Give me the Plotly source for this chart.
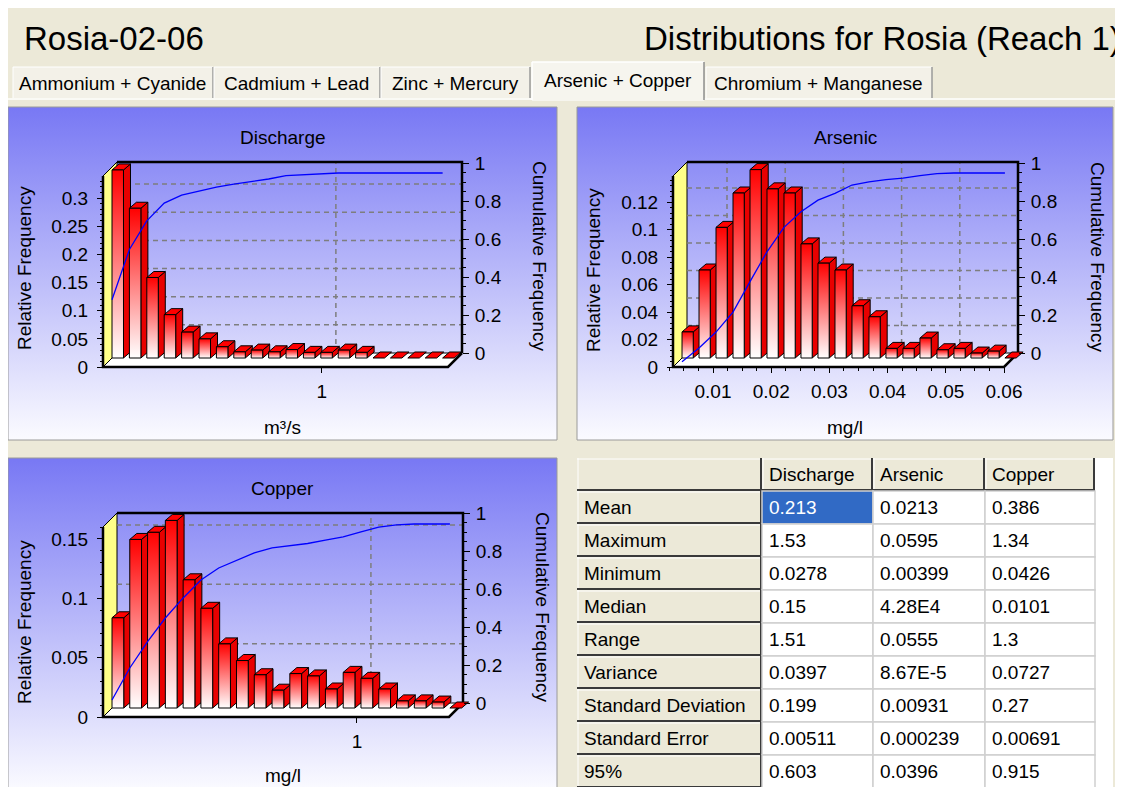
import numpy as np
import plotly.graph_objects as go

W, H = 1123, 787
OFF = 8   # page offset of the figure (body margin)
FONT = "Liberation Sans, Arial, sans-serif"

# ======================= data =======================
APP_TITLE = "Rosia-02-06"
VIEW_TITLE = "Distributions for Rosia (Reach 1)"
TAB_LABELS = ["Ammonium + Cyanide", "Cadmium + Lead", "Zinc + Mercury",
              "Arsenic + Copper", "Chromium + Manganese"]
ACTIVE_TAB = "Arsenic + Copper"

CHART_TITLES = ["Discharge", "Arsenic", "Copper"]
X_UNITS = ["m³/s", "mg/l", "mg/l"]
Y_TITLE = "Relative Frequency"
Y2_TITLE = "Cumulative Frequency"

DISCHARGE_FREQ = [0.334, 0.266, 0.143, 0.077, 0.046, 0.034, 0.020, 0.011, 0.014, 0.011,
                  0.015, 0.010, 0.010, 0.014, 0.010, 0.0, 0.0, 0.0, 0.0, 0.0]
DISCHARGE_CUM = [0.347, 0.606, 0.753, 0.845, 0.886, 0.907, 0.927, 0.943, 0.955, 0.969,
                 0.986, 0.990, 0.995, 1.0, 1.0, 1.0, 1.0, 1.0, 1.0, 1.0]
DISCHARGE_BIN_START = 0.0278
DISCHARGE_BIN_WIDTH = 0.0791
DISCHARGE_Y_TICKS = [0, 0.05, 0.1, 0.15, 0.2, 0.25, 0.3]
DISCHARGE_Y_LABELS = ["0", "0.05", "0.1", "0.15", "0.2", "0.25", "0.3"]
DISCHARGE_X_TICKS = [1]
DISCHARGE_X_LABELS = ["1"]

ARSENIC_FREQ = [0.019, 0.064, 0.095, 0.120, 0.137, 0.123, 0.120, 0.083, 0.069, 0.064,
                0.038, 0.030, 0.007, 0.007, 0.0145, 0.006, 0.007, 0.0036, 0.005, 0.0]
ARSENIC_CUM = [0.027, 0.098, 0.180, 0.283, 0.440, 0.594, 0.720, 0.800, 0.860, 0.895,
               0.938, 0.954, 0.966, 0.974, 0.987, 0.997, 1.0, 1.0, 1.0, 1.0]
ARSENIC_BIN_START = 0.00399
ARSENIC_BIN_WIDTH = 0.00292
ARSENIC_Y_TICKS = [0, 0.02, 0.04, 0.06, 0.08, 0.1, 0.12]
ARSENIC_Y_LABELS = ["0", "0.02", "0.04", "0.06", "0.08", "0.1", "0.12"]
ARSENIC_X_TICKS = [0.01, 0.02, 0.03, 0.04, 0.05, 0.06]
ARSENIC_X_LABELS = ["0.01", "0.02", "0.03", "0.04", "0.05", "0.06"]

COPPER_FREQ = [0.076, 0.142, 0.148, 0.158, 0.108, 0.084, 0.054, 0.040, 0.028, 0.015,
               0.029, 0.027, 0.016, 0.030, 0.025, 0.016, 0.006, 0.006, 0.005, 0.0]
COPPER_CUM = [0.088, 0.254, 0.390, 0.513, 0.617, 0.710, 0.772, 0.813, 0.850, 0.876,
              0.889, 0.899, 0.917, 0.933, 0.959, 0.984, 0.995, 1.0, 1.0, 1.0]
COPPER_BIN_START = 0.0426
COPPER_BIN_WIDTH = 0.0684
COPPER_Y_TICKS = [0, 0.05, 0.1, 0.15]
COPPER_Y_LABELS = ["0", "0.05", "0.1", "0.15"]
COPPER_X_TICKS = [1]
COPPER_X_LABELS = ["1"]

CUM_TICKS = [0, 0.2, 0.4, 0.6, 0.8, 1]
CUM_LABELS = ["0", "0.2", "0.4", "0.6", "0.8", "1"]

STAT_NAMES = ["Mean", "Maximum", "Minimum", "Median", "Range", "Variance",
              "Standard Deviation", "Standard Error", "95%"]
STAT_COLUMNS = ["Discharge", "Arsenic", "Copper"]
DISCHARGE_STATS = ["0.213", "1.53", "0.0278", "0.15", "1.51", "0.0397", "0.199", "0.00511", "0.603"]
ARSENIC_STATS = ["0.0213", "0.0595", "0.00399", "4.28E4", "0.0555", "8.67E-5", "0.00931", "0.000239", "0.0396"]
COPPER_STATS = ["0.386", "1.34", "0.0426", "0.0101", "1.3", "0.0727", "0.27", "0.00691", "0.915"]

# ======================= geometry / style =======================
BG = "#ECE9D8"
YELLOW = "#FFFF88"
BOX_DEPTH = 14          # px depth of the 3D box
BAR_SHIFT_X = 4         # bar plane offset (px)
BAR_LIFT = 9
BAR_FRAC = 0.66
BAR_DX, BAR_DY = 7, 6   # bar depth (px)

GEOM = [
    dict(panel=(8, 107, 557, 440), xref=(0.0278, 108), sx=220, y0=367, sy=563,
         box=(103, 448, 176), cum=(367, 173), right=(353, 163),
         title_y=137, unit_y=427, ytitle=(24, 268), y2title=(540, 256),
         minor_y=0.01, minor_x=None),
    dict(panel=(577, 107, 1113, 440), xref=(0.01, 713), sx=5820, y0=367, sy=1375,
         box=(673, 1004, 176), cum=(367, 173), right=(353, 163),
         title_y=137, unit_y=427, ytitle=(593, 270), y2title=(1098, 257),
         minor_y=0.004, minor_x=0.0025),
    dict(panel=(8, 458, 557, 791), xref=(0.0426, 108), sx=260, y0=717, sy=1187,
         box=(103, 449, 527), cum=(717, 524), right=(703, 513),
         title_y=488, unit_y=775, ytitle=(24, 622), y2title=(543, 607),
         minor_y=0.01, minor_x=None),
]

TICKFONT = dict(family=FONT, size=19, color="black")

fig = go.Figure()
axes = {}
shapes = []
annotations = []


def Y(py):
    """page pixel row -> background-axis y value"""
    return H + OFF - py


def dx(px):
    return (px - OFF) / W


def dy(py):
    return min(1.0, max(0.0, 1 - (py - OFF) / H))


def rect(x0, y0, x1, y1, fill, line=None, lw=0, layer="below"):
    shapes.append(dict(type="rect", xref="x", yref="y", x0=x0, x1=x1, y0=Y(y0), y1=Y(y1),
                       fillcolor=fill, line=dict(color=line or fill, width=lw), layer=layer))


def seg(x0, y0, x1, y1, color, lw=1, layer="below"):
    shapes.append(dict(type="line", xref="x", yref="y", x0=x0, x1=x1, y0=Y(y0), y1=Y(y1),
                       line=dict(color=color, width=lw), layer=layer))


def text(x, y, s, size=19, color="black", xanchor="center", angle=0, family=FONT):
    annotations.append(dict(xref="x", yref="y", x=x, y=Y(y), text=s, showarrow=False,
                            xanchor=xanchor, yanchor="middle", textangle=angle,
                            font=dict(family=family, size=size, color=color)))


# background axes in page pixels
axes["xaxis"] = dict(domain=[0, 1], range=[OFF, W + OFF], visible=False, fixedrange=True)
axes["yaxis"] = dict(domain=[0, 1], range=[0, H], visible=False, fixedrange=True)

# window chrome
text(22, 38, APP_TITLE, size=33, xanchor="left")
text(642, 38, VIEW_TITLE, size=33, xanchor="left")

TAB_EDGES = [(12, 213), (213, 380), (380, 530), (532, 704), (705, 932)]
seg(8, 99, 1116, 99, "#FFFFFF", 1.5)
for lab, (l, r) in zip(TAB_LABELS, TAB_EDGES):
    if lab == ACTIVE_TAB:
        rect(l, 62, r, 101, "#F6F5EE")
        seg(l, 62, l, 100, "#FFFFFF", 1.5)
        seg(l, 62, r, 62, "#FFFFFF", 1.5)
        seg(r, 62, r, 100, "#8E8E8E", 1.5)
        text((l + r) / 2, 80, lab)
    else:
        rect(l + 1, 67, r, 98, "#F3F1E8")
        seg(l + 1, 67, l + 1, 98, "#FFFFFF", 1)
        seg(l + 1, 67, r, 67, "#FFFFFF", 1)
        seg(r, 67, r, 98, "#9A9A9A", 1.5)
        text((l + r) / 2, 83, lab)

# panels with vertical gradient
for g in GEOM:
    l, t, r, b = g["panel"]
    fig.add_trace(go.Scatter(
        x=[l, r, r, l, l], y=[Y(b), Y(b), Y(t), Y(t), Y(b)], mode="lines", fill="toself",
        fillgradient=dict(type="vertical", colorscale=[[0, "#FBFBFF"], [1, "#7878F4"]],
                          start=Y(b), stop=Y(t)),
        line=dict(color="#9A9A9A", width=1), hoverinfo="skip", showlegend=False,
        xaxis="x", yaxis="y"))

CHARTS = [
    (DISCHARGE_FREQ, DISCHARGE_CUM, DISCHARGE_BIN_START, DISCHARGE_BIN_WIDTH,
     DISCHARGE_Y_TICKS, DISCHARGE_Y_LABELS, DISCHARGE_X_TICKS, DISCHARGE_X_LABELS),
    (ARSENIC_FREQ, ARSENIC_CUM, ARSENIC_BIN_START, ARSENIC_BIN_WIDTH,
     ARSENIC_Y_TICKS, ARSENIC_Y_LABELS, ARSENIC_X_TICKS, ARSENIC_X_LABELS),
    (COPPER_FREQ, COPPER_CUM, COPPER_BIN_START, COPPER_BIN_WIDTH,
     COPPER_Y_TICKS, COPPER_Y_LABELS, COPPER_X_TICKS, COPPER_X_LABELS),
]

for c, (g, (freq, cum, bstart, bwidth, yt, yl, xt, xl)) in enumerate(zip(GEOM, CHARTS)):
    xn = c + 2
    yln, yrn, ycn = 3 * c + 2, 3 * c + 3, 3 * c + 4
    xid, ylid, yrid, ycid = f"x{xn}", f"y{yln}", f"y{yrn}", f"y{ycn}"
    l, t, r, b = g["panel"]
    b = min(b, H + OFF)
    xv, xp = g["xref"]
    sx, sy, y0 = g["sx"], g["sy"], g["y0"]

    def vx(px, xv=xv, xp=xp, sx=sx):
        return xv + (px - xp) / sx

    def vy(py, y0=y0, sy=sy):
        return (y0 - py) / sy

    c0, c1 = g["cum"]
    r0, r1 = g["right"]
    vc = lambda py, c0=c0, c1=c1: (c0 - py) / (c0 - c1)
    vr = lambda py, r0=r0, r1=r1: (r0 - py) / (r0 - r1)

    bl, br, btop = g["box"]
    xL, xR, yT = vx(bl), vx(br), vy(btop)
    DX, DY = BOX_DEPTH / sx, BOX_DEPTH / sy

    dom_x = [dx(l), dx(r)]
    dom_y = [dy(b), dy(t)]

    minor_x = None
    if g["minor_x"]:
        minor_x = dict(tickmode="array",
                       tickvals=list(np.arange(g["minor_x"], xR + 1e-9, g["minor_x"])),
                       ticks="outside", ticklen=3, tickcolor="black")
    axes[f"xaxis{xn}"] = dict(
        domain=dom_x, range=[vx(l), vx(r)], anchor="free", position=dy(y0),
        showgrid=False, zeroline=False, showline=False, ticks="outside", ticklen=5,
        tickcolor="black", tickmode="array", tickvals=xt, ticktext=xl, tickfont=TICKFONT,
        ticklabelstandoff=2, fixedrange=True, automargin=False,
        **({"minor": minor_x} if minor_x else {}))
    axes[f"yaxis{yln}"] = dict(
        domain=dom_y, range=[vy(b), vy(t)], anchor="free", position=dx(bl), side="left",
        showgrid=False, zeroline=False, showline=False, ticks="outside", ticklen=6,
        tickcolor="black", tickmode="array", tickvals=yt, ticktext=yl, tickfont=TICKFONT,
        ticklabelstandoff=5, fixedrange=True, automargin=False,
        minor=dict(tickmode="array",
                   tickvals=list(np.arange(0, yT + 1e-9, g["minor_y"])),
                   ticks="outside", ticklen=3, tickcolor="black"))
    axes[f"yaxis{yrn}"] = dict(
        overlaying=ylid, anchor="free", position=dx(br + BOX_DEPTH), side="right",
        range=[vr(b), vr(t)], showgrid=False, zeroline=False, showline=False,
        ticks="outside", ticklen=6, tickcolor="black", tickmode="array",
        tickvals=CUM_TICKS, ticktext=CUM_LABELS, tickfont=TICKFONT, ticklabelstandoff=2,
        fixedrange=True, automargin=False,
        minor=dict(tickmode="array", tickvals=list(np.arange(0, 1.0001, 0.05)),
                   ticks="outside", ticklen=3, tickcolor="black"))
    axes[f"yaxis{ycn}"] = dict(overlaying=ylid, anchor=xid, range=[vc(b), vc(t)],
                               visible=False, fixedrange=True)

    common = dict(xaxis=xid, yaxis=ylid, hoverinfo="skip", showlegend=False)

    # yellow left wall
    fig.add_trace(go.Scatter(x=[xL, xL, xL + DX, xL + DX, xL], y=[0, yT, yT + DY, DY, 0],
                             mode="lines", fill="toself", fillcolor=YELLOW,
                             line=dict(color="black", width=1), **common))
    # floor
    fig.add_trace(go.Scatter(x=[xL, xR, xR + DX, xL + DX, xL], y=[0, 0, DY, DY, 0],
                             mode="lines", fill="toself", fillcolor="white",
                             line=dict(color="black", width=1), **common))
    # dashed grid on back wall
    gx, gy = [], []
    for tv in yt[1:]:
        gx += [xL + DX, xR + DX, None]
        gy += [tv + DY, tv + DY, None]
    for tv in xt:
        if tv < xR - 1e-9:
            gx += [tv + DX, tv + DX, None]
            gy += [DY, yT + DY, None]
    fig.add_trace(go.Scatter(x=gx, y=gy, mode="lines",
                             line=dict(color="#7E7E7E", width=1.5, dash="5px,4px"), **common))
    # back frame
    fig.add_trace(go.Scatter(x=[xL + DX, xR + DX, xR + DX], y=[yT + DY, yT + DY, DY],
                             mode="lines", line=dict(color="black", width=2.5), **common))
    # front edge + left axis line
    fig.add_trace(go.Scatter(x=[xL, xL, xR, xR + DX], y=[yT, 0, 0, DY],
                             mode="lines", line=dict(color="black", width=2.5), **common))

    # bars
    base = BAR_LIFT / sy
    shift = BAR_SHIFT_X / sx
    bw = BAR_FRAC * bwidth
    ddx, ddy = BAR_DX / sx, BAR_DY / sy
    lefts = [bstart + i * bwidth + shift for i in range(len(freq))]
    tx, ty, sxs, sys_ = [], [], [], []
    for L, h in zip(lefts, freq):
        R = L + bw
        top = base + h
        tx += [L, L + ddx, R + ddx, R, L, None]
        ty += [top, top + ddy, top + ddy, top, top, None]
        if h > 0:
            sxs += [R, R + ddx, R + ddx, R, R, None]
            sys_ += [base, base + ddy, top + ddy, top, base, None]
    fig.add_trace(go.Scatter(x=sxs, y=sys_, mode="lines", fill="toself", fillcolor="#E80000",
                             line=dict(color="black", width=1), **common))
    fig.add_trace(go.Scatter(x=tx, y=ty, mode="lines", fill="toself", fillcolor="#FF0000",
                             line=dict(color="black", width=1), **common))
    for L, h in zip(lefts, freq):
        if h <= 0:
            continue
        R = L + bw
        top = base + h
        fig.add_trace(go.Scatter(
            x=[L, L, R, R, L], y=[base, top, top, base, base], mode="lines", fill="toself",
            fillgradient=dict(type="vertical", colorscale=[[0, "#FFFFFF"], [1, "#FF0000"]],
                              start=base, stop=top),
            line=dict(color="black", width=1), **common))

    # right axis anchor (invisible)
    fig.add_trace(go.Scatter(x=[xL], y=[0], mode="markers", marker=dict(opacity=0),
                             xaxis=xid, yaxis=yrid, hoverinfo="skip", showlegend=False))
    # cumulative frequency line
    fig.add_trace(go.Scatter(x=lefts, y=cum, mode="lines", line=dict(color="#0000FF", width=1.3),
                             xaxis=xid, yaxis=ycid, hoverinfo="skip", showlegend=False))

    # titles
    cx = (l + r) / 2
    text(cx, g["title_y"], CHART_TITLES[c])
    text(cx, g["unit_y"], X_UNITS[c])
    text(g["ytitle"][0], g["ytitle"][1], Y_TITLE, angle=-90)
    text(g["y2title"][0], g["y2title"][1], Y2_TITLE, angle=90)

# ---------------- statistics table ----------------
COLS_PX = [577, 762, 873, 985, 1095]
ROW_TOP, ROW_H = 458, 33
rect(577, 458, 1113, 795, "#FFFFFF")
columns = [DISCHARGE_STATS, ARSENIC_STATS, COPPER_STATS]
for ri in range(len(STAT_NAMES) + 1):
    y0 = ROW_TOP + ri * ROW_H
    y1 = y0 + ROW_H
    for ci in range(4):
        x0, x1 = COLS_PX[ci], COLS_PX[ci + 1]
        if ri == 0 or ci == 0:
            rect(x0, y0, x1, y1, BG)
            seg(x0, y0 + 1, x1, y0 + 1, "#FFFFFF", 1)
            seg(x0 + 1, y0, x0 + 1, y1, "#FFFFFF", 1)
            seg(x0, y1 - 1, x1, y1 - 1, "#3A3A3A", 2)
            seg(x1 - 1, y0, x1 - 1, y1, "#3A3A3A", 2)
            if ri == 0 and ci > 0:
                text(x0 + 5, (y0 + y1) / 2, STAT_COLUMNS[ci - 1], xanchor="left")
            elif ci == 0 and ri > 0:
                text(x0 + 5, (y0 + y1) / 2, STAT_NAMES[ri - 1], xanchor="left")
        else:
            selected = (ri == 1 and ci == 1)
            rect(x0, y0, x1, y1, "#316AC5" if selected else "#FFFFFF", line="#CFCFCF", lw=1.5)
            text(x0 + 5, (y0 + y1) / 2, columns[ci - 1][ri - 1], xanchor="left",
                 color="#FFFFFF" if selected else "black")

fig.update_layout(
    width=W, height=H, margin=dict(l=0, r=0, t=0, b=0),
    paper_bgcolor=BG, plot_bgcolor="rgba(0,0,0,0)",
    font=dict(family=FONT, size=19, color="black"),
    showlegend=False, shapes=shapes, annotations=annotations, **axes)

fig.write_html("out.html")
